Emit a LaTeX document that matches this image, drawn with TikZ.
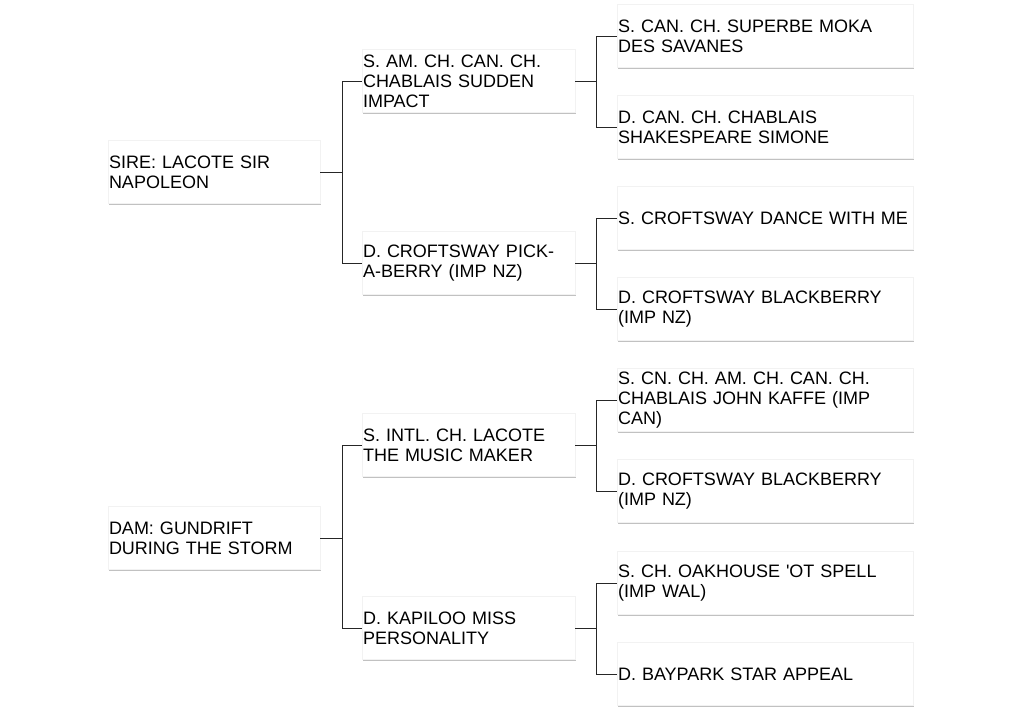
\documentclass[tikz,border=0pt]{standalone}
\usepackage{fontspec}
\setmainfont{Liberation Sans}
\usetikzlibrary{shadows}
\begin{document}
\begin{tikzpicture}[x=1pt,y=-1pt,
  box/.style={rectangle, fill=white, draw=black!5, line width=0.4pt,
    drop shadow={opacity=0.35, shadow xshift=0.8pt, shadow yshift=-1.8pt, fill=black!70},
    minimum height=63pt, inner xsep=1pt, inner ysep=0pt, align=left,
    font=\fontsize{18}{20}\selectfont},
  gone/.style={box, text width=210pt},
  gtwo/.style={box, text width=211pt},
  gthree/.style={box, text width=294pt},
  link/.style={draw=black!85, line width=1pt}]
\useasboundingbox (0,0) rectangle (1024,713);
% generation 1
\node[gone] (sire) at (214,172) {SIRE: LACOTE SIR\\NAPOLEON};
\node[gone] (dam)  at (214,538) {DAM: GUNDRIFT\\DURING THE STORM};
% generation 2
\node[gtwo] (ss) at (468.5,81)  {S. AM. CH. CAN. CH.\\CHABLAIS SUDDEN\\IMPACT};
\node[gtwo] (sd) at (468.5,263) {D. CROFTSWAY PICK-\\A-BERRY (IMP NZ)};
\node[gtwo] (ds) at (468.5,445) {S. INTL. CH. LACOTE\\THE MUSIC MAKER};
\node[gtwo] (dd) at (468.5,628) {D. KAPILOO MISS\\PERSONALITY};
% generation 3
\node[gthree] (sss) at (765,36)  {S. CAN. CH. SUPERBE MOKA\\DES SAVANES};
\node[gthree] (ssd) at (765,127) {D. CAN. CH. CHABLAIS\\SHAKESPEARE SIMONE};
\node[gthree] (sds) at (765,218) {\mbox{S. CROFTSWAY DANCE WITH ME}};
\node[gthree] (sdd) at (765,309) {D. CROFTSWAY BLACKBERRY\\(IMP NZ)};
\node[gthree] (dss) at (765,400) {S. CN. CH. AM. CH. CAN. CH.\\CHABLAIS JOHN KAFFE (IMP\\CAN)};
\node[gthree] (dsd) at (765,491) {D. CROFTSWAY BLACKBERRY\\(IMP NZ)};
\node[gthree] (dds) at (765,583) {S. CH. OAKHOUSE \textquotesingle OT SPELL\\(IMP WAL)};
\node[gthree] (ddd) at (765,674) {D. BAYPARK STAR APPEAL};
% connectors
\draw[link] (sire.east) -- ++(22,0) coordinate (j1) |- (ss.west) (j1) |- (sd.west);
\draw[link] (dam.east)  -- ++(22,0) coordinate (j2) |- (ds.west) (j2) |- (dd.west);
\draw[link] (ss.east) -- ++(21,0) coordinate (j3) |- (sss.west) (j3) |- (ssd.west);
\draw[link] (sd.east) -- ++(21,0) coordinate (j4) |- (sds.west) (j4) |- (sdd.west);
\draw[link] (ds.east) -- ++(21,0) coordinate (j5) |- (dss.west) (j5) |- (dsd.west);
\draw[link] (dd.east) -- ++(21,0) coordinate (j6) |- (dds.west) (j6) |- (ddd.west);
\end{tikzpicture}
\end{document}
